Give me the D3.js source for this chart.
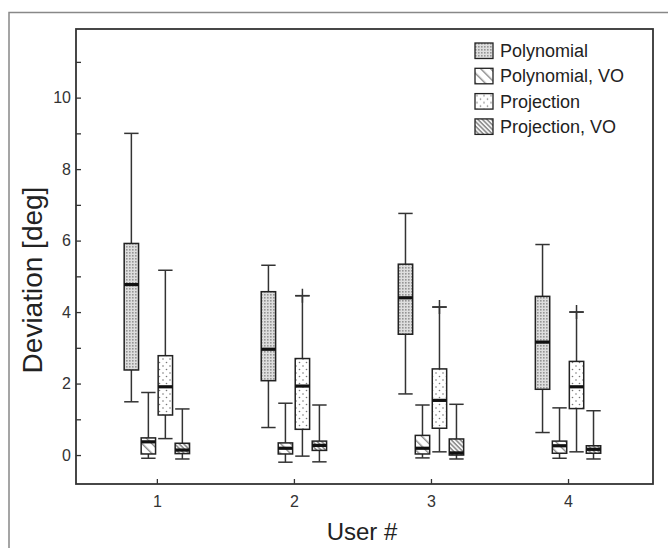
<!DOCTYPE html>
<html>
<meta charset="utf-8">
<style>
body { margin: 0; background: #fff; }
svg { font-family: "Liberation Sans", Arial, sans-serif; }
</style>
<body>
<script src="https://d3js.org/d3.v7.min.js"></script>
<script>
// users on the x axis
var users = [1, 2, 3, 4];
var seriesNames = ["Polynomial", "Polynomial, VO", "Projection", "Projection, VO"];

// per user: [low whisker, q1, median, q3, high whisker]
var polynomial   = [[1.49, 2.38, 4.77, 5.92, 9.00], [0.77, 2.08, 2.96, 4.57, 5.31], [1.71, 3.38, 4.40, 5.34, 6.76], [0.63, 1.84, 3.16, 4.44, 5.89]];
var polynomialVO = [[-0.09, 0.03, 0.37, 0.48, 1.75], [-0.20, 0.03, 0.19, 0.34, 1.45], [-0.08, 0.03, 0.19, 0.55, 1.40], [-0.09, 0.05, 0.26, 0.39, 1.32]];
var projection   = [[0.46, 1.12, 1.91, 2.78, 5.17], [-0.03, 0.72, 1.93, 2.70, 4.46], [0.09, 0.75, 1.53, 2.41, 4.14], [0.09, 1.30, 1.91, 2.62, 4.00]];
var projectionVO = [[-0.11, 0.04, 0.14, 0.33, 1.29], [-0.19, 0.13, 0.27, 0.39, 1.40], [-0.11, 0.00, 0.06, 0.45, 1.42], [-0.11, 0.05, 0.16, 0.26, 1.24]];
// outliers ('+') of the projection series, per user
var projectionOutliers = [null, 4.46, 4.14, 4.00];

var yTicks = [0, 1, 2, 3, 4, 5, 6, 7, 8, 9, 10, 11];

var W = 668, H = 548;
var plot = {left: 76, top: 29, right: 653, bottom: 484};

var svg = d3.select("body").append("svg")
    .attr("width", W)
    .attr("height", H);

// fill patterns
var defs = svg.append("defs");

var p1 = defs.append("pattern").attr("id", "pat0")
    .attr("patternUnits", "userSpaceOnUse").attr("width", 3).attr("height", 3);
p1.append("rect").attr("width", 3).attr("height", 3).attr("fill", "#dedede");
p1.append("rect").attr("width", 1.6).attr("height", 1.6).attr("fill", "#959595");

var p2 = defs.append("pattern").attr("id", "pat1")
    .attr("patternUnits", "userSpaceOnUse").attr("width", 7).attr("height", 7)
    .attr("patternTransform", "rotate(-45)");
p2.append("rect").attr("width", 7).attr("height", 7).attr("fill", "#fff");
p2.append("rect").attr("x", 3).attr("width", 1.4).attr("height", 7).attr("fill", "#888");

var p3 = defs.append("pattern").attr("id", "pat2")
    .attr("patternUnits", "userSpaceOnUse").attr("width", 7).attr("height", 7);
p3.append("rect").attr("width", 7).attr("height", 7).attr("fill", "#fff");
p3.append("circle").attr("cx", 2).attr("cy", 2).attr("r", 0.8).attr("fill", "#777");
p3.append("circle").attr("cx", 5.5).attr("cy", 5.5).attr("r", 0.8).attr("fill", "#777");

var p4 = defs.append("pattern").attr("id", "pat3")
    .attr("patternUnits", "userSpaceOnUse").attr("width", 3.2).attr("height", 3.2)
    .attr("patternTransform", "rotate(-45)");
p4.append("rect").attr("width", 3.2).attr("height", 3.2).attr("fill", "#f4f4f4");
p4.append("rect").attr("x", 1).attr("width", 1.3).attr("height", 3.2).attr("fill", "#7a7a7a");

// outer frame (runs off the right and bottom of the picture)
svg.append("rect")
    .attr("x", 9).attr("y", 12.5)
    .attr("width", 700).attr("height", 600)
    .attr("fill", "none").attr("stroke", "#888").attr("stroke-width", 1.5);

var x = d3.scaleLinear().domain([0.41, 4.62]).range([plot.left, plot.right]);
var y = d3.scaleLinear().domain([-0.81, 11.92]).range([plot.bottom, plot.top]);

var offsets = [-0.186, -0.062, 0.062, 0.186];
var boxW = x(0.105) - x(0);

// axes
var yAxis = d3.axisLeft(y)
    .tickValues(yTicks)
    .tickSizeInner(-5)
    .tickSizeOuter(0)
    .tickPadding(5)
    .tickFormat(function(d) { return d % 2 === 0 ? d : ""; });

var xAxis = d3.axisBottom(x)
    .tickValues(users)
    .tickSizeInner(-5)
    .tickSizeOuter(0)
    .tickPadding(12)
    .tickFormat(d3.format("d"));

var gy = svg.append("g")
    .attr("transform", "translate(" + plot.left + ",0)")
    .call(yAxis);
var gx = svg.append("g")
    .attr("transform", "translate(0," + plot.bottom + ")")
    .call(xAxis);

[gx, gy].forEach(function(g) {
  g.select(".domain").remove();
  g.selectAll("line").attr("stroke", "#333").attr("stroke-width", 1.3);
  g.selectAll("text").attr("fill", "#333").style("font-size", "16px");
});

// boxes
var allSeries = [polynomial, polynomialVO, projection, projectionVO];
var boxes = [];
allSeries.forEach(function(s, si) {
  s.forEach(function(v, ui) {
    boxes.push({series: si, user: users[ui], v: v});
  });
});

var gb = svg.append("g");
var bg = gb.selectAll("g.box").data(boxes).enter().append("g").attr("class", "box");

bg.each(function(d) {
  var g = d3.select(this);
  var cx = x(d.user + offsets[d.series]);
  var x0 = cx - boxW / 2;

  // whiskers
  g.append("line")
      .attr("x1", cx).attr("x2", cx)
      .attr("y1", y(d.v[3])).attr("y2", y(d.v[4]))
      .attr("stroke", "#333").attr("stroke-width", 1.5);
  g.append("line")
      .attr("x1", cx).attr("x2", cx)
      .attr("y1", y(d.v[1])).attr("y2", y(d.v[0]))
      .attr("stroke", "#333").attr("stroke-width", 1.5);
  [d.v[0], d.v[4]].forEach(function(c) {
    g.append("line")
        .attr("x1", x0).attr("x2", x0 + boxW)
        .attr("y1", y(c)).attr("y2", y(c))
        .attr("stroke", "#333").attr("stroke-width", 1.5);
  });

  g.append("rect")
      .attr("x", x0)
      .attr("y", y(d.v[3]))
      .attr("width", boxW)
      .attr("height", y(d.v[1]) - y(d.v[3]))
      .attr("fill", "url(#pat" + d.series + ")")
      .attr("stroke", "#222")
      .attr("stroke-width", 1.5);

  g.append("line")
      .attr("x1", x0).attr("x2", x0 + boxW)
      .attr("y1", y(d.v[2])).attr("y2", y(d.v[2]))
      .attr("stroke", "#111").attr("stroke-width", 3.2);
});

// outliers of projection
var outl = projectionOutliers.map(function(o, i) { return {user: users[i], value: o}; })
    .filter(function(d) { return d.value !== null; });
gb.selectAll("path.outlier").data(outl).enter().append("path")
    .attr("class", "outlier")
    .attr("d", function(d) {
      var cx = x(d.user + offsets[2]), cy = y(d.value);
      return "M" + (cx - boxW / 2) + "," + cy + "H" + (cx + boxW / 2) +
             "M" + cx + "," + (cy - 7) + "V" + (cy + 7);
    })
    .attr("stroke", "#333").attr("stroke-width", 1.5).attr("fill", "none");

// plot box
svg.append("rect")
    .attr("x", plot.left).attr("y", plot.top)
    .attr("width", plot.right - plot.left).attr("height", plot.bottom - plot.top)
    .attr("fill", "none").attr("stroke", "#333").attr("stroke-width", 1.8);

// legend
var legend = svg.append("g").selectAll("g").data(seriesNames).enter().append("g")
    .attr("transform", function(d, i) { return "translate(475," + (43 + i * 25.3) + ")"; });
legend.append("rect")
    .attr("width", 18).attr("height", 15.5)
    .attr("fill", function(d, i) { return "url(#pat" + i + ")"; })
    .attr("stroke", "#222").attr("stroke-width", 1.3);
legend.append("text")
    .attr("x", 25).attr("y", 14)
    .attr("fill", "#222")
    .style("font-size", "18px")
    .text(function(d) { return d; });

// axis titles
svg.append("text")
    .attr("x", 362).attr("y", 540)
    .attr("text-anchor", "middle")
    .attr("fill", "#222")
    .style("font-size", "24px")
    .text("User #");

svg.append("text")
    .attr("transform", "translate(42,280) rotate(-90)")
    .attr("text-anchor", "middle")
    .attr("fill", "#222")
    .style("font-size", "28px")
    .text("Deviation [deg]");
</script>
</body>
</html>
